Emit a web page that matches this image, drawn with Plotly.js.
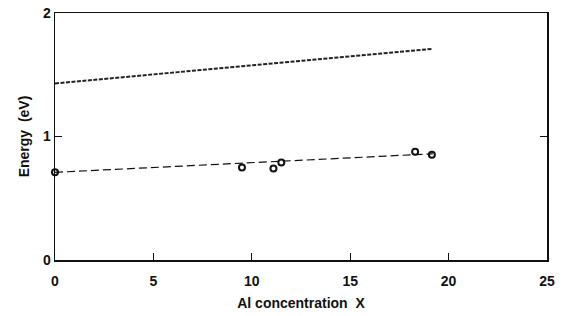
<!DOCTYPE html>
<html>
<head>
<meta charset="utf-8">
<script src="https://cdn.plot.ly/plotly-3.0.1.min.js"></script>
<style>html,body{margin:0;padding:0;background:#fff;}</style>
</head>
<body>
<div id="chart" style="width:586px;height:316px;"></div>
<script>
// Upper line (dashed fit)
const upperX = [0, 19.2];
const upperY = [1.43, 1.71];
// Lower fit line
const lowerX = [0, 19.2];
const lowerY = [0.71, 0.86];
// Measured points
const ptsX = [0, 9.5, 11.1, 11.5, 18.3, 19.15];
const ptsY = [0.71, 0.75, 0.74, 0.79, 0.877, 0.853];
const xTicks = [0, 5, 10, 15, 20, 25];
const yTicks = [0, 1, 2];

const traces = [
  {x: upperX, y: upperY, mode: 'lines', line: {color: '#222', width: 2, dash: '4px,1.5px'}, hoverinfo: 'skip'},
  {x: lowerX, y: lowerY, mode: 'lines', line: {color: '#111', width: 1.2, dash: '8px,4px'}, hoverinfo: 'skip'},
  {x: ptsX, y: ptsY, mode: 'markers', marker: {symbol: 'circle-open', size: 6, color: '#111', line: {width: 2, color: '#111'}}, cliponaxis: false}
];

const fam = 'Liberation Sans, Arial, sans-serif';
const layout = {
  width: 586, height: 316,
  margin: {l: 55, r: 39, t: 13, b: 56},
  paper_bgcolor: '#fff', plot_bgcolor: '#fff',
  showlegend: false,
  font: {family: fam, size: 13, color: '#111'},
  xaxis: {
    range: [0, 25], tickvals: xTicks, ticktext: xTicks.map(String),
    ticks: 'inside', ticklen: 7, tickwidth: 1, tickcolor: '#111',
    showline: true, linecolor: '#111', linewidth: 1.5, mirror: true,
    showgrid: false, zeroline: false, ticklabelstandoff: 8,
    tickfont: {family: fam, size: 14, color: '#111', weight: 'bold'},
    title: {text: 'Al concentration  X', font: {family: fam, size: 14, color: '#111', weight: 'bold'}, standoff: 10}
  },
  yaxis: {
    range: [0, 2], tickvals: yTicks, ticktext: yTicks.map(String),
    ticks: 'inside', ticklen: 7, tickwidth: 1, tickcolor: '#111',
    showline: true, linecolor: '#111', linewidth: 1.5, mirror: 'ticks',
    showgrid: false, zeroline: false,
    tickfont: {family: fam, size: 14, color: '#111', weight: 'bold'},
    title: {text: 'Energy  (eV)', font: {family: fam, size: 14, color: '#111', weight: 'bold'}, standoff: 10}
  }
};

Plotly.newPlot('chart', traces, layout, {displayModeBar: false, staticPlot: true});
</script>
</body>
</html>
